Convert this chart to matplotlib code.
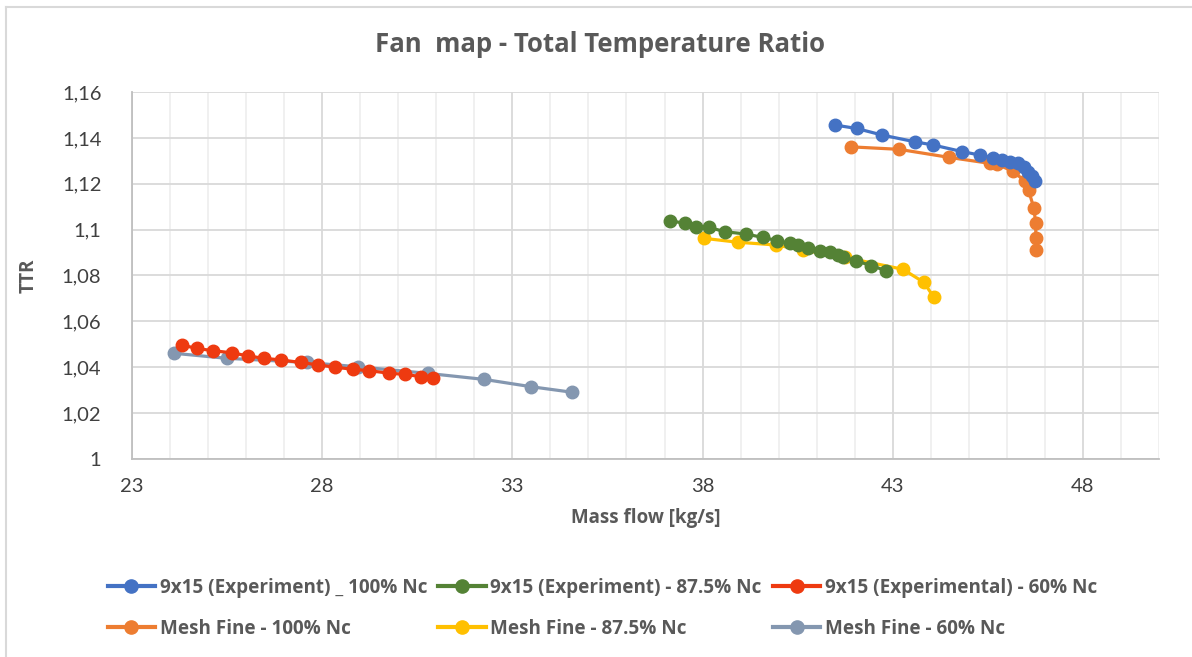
import matplotlib
matplotlib.use("Agg")
import matplotlib.pyplot as plt
from matplotlib.lines import Line2D
from matplotlib.ticker import MultipleLocator

plt.rcParams['font.family'] = ['Lato', 'DejaVu Sans']
BOLD_FONT = ['Open Sans', 'DejaVu Sans']

# Fan map data: mass flow [kg/s] vs total temperature ratio
exp100_x = [41.48, 42.05, 42.73, 43.58, 44.06, 44.83, 45.29, 45.64, 45.86, 46.08,
            46.29, 46.44, 46.56, 46.65, 46.73]
exp100_y = [1.1456, 1.1441, 1.1412, 1.1383, 1.1369, 1.1340, 1.1325, 1.1313, 1.1303, 1.1296,
            1.1289, 1.1274, 1.1252, 1.1234, 1.1212]

mesh100_x = [41.89, 43.17, 44.48, 45.55, 45.73, 46.15, 46.47, 46.57, 46.71, 46.76,
             46.76, 46.76]
mesh100_y = [1.1361, 1.1350, 1.1315, 1.1289, 1.1286, 1.1255, 1.1213, 1.1173, 1.1093, 1.1027,
             1.0965, 1.0911]

exp875_x = [37.14, 37.55, 37.84, 38.17, 38.58, 39.13, 39.59, 39.96, 40.29, 40.51,
            40.77, 41.08, 41.34, 41.56, 41.69, 42.03, 42.44, 42.82]
exp875_y = [1.1039, 1.1027, 1.1013, 1.1010, 1.0991, 1.0981, 1.0966, 1.0952, 1.0940, 1.0933,
            1.0918, 1.0908, 1.0901, 1.0889, 1.0882, 1.0864, 1.0843, 1.0821]

mesh875_x = [38.04, 38.93, 39.93, 40.63, 41.74, 43.27, 43.82, 44.08]
mesh875_y = [1.0962, 1.0945, 1.0933, 1.0911, 1.0879, 1.0827, 1.0770, 1.0705]

exp60_x = [24.31, 24.70, 25.14, 25.62, 26.06, 26.47, 26.91, 27.43, 27.90, 28.34,
           28.82, 29.24, 29.76, 30.17, 30.60, 30.92]
exp60_y = [1.0497, 1.0482, 1.0472, 1.0463, 1.0449, 1.0439, 1.0432, 1.0421, 1.0410, 1.0400,
           1.0391, 1.0385, 1.0374, 1.0369, 1.0359, 1.0352]

mesh60_x = [24.10, 25.49, 27.59, 28.95, 30.79, 32.26, 33.50, 34.57]
mesh60_y = [1.0461, 1.0439, 1.0421, 1.0402, 1.0373, 1.0347, 1.0315, 1.0291]

series = [
    ("9x15 (Experiment) _ 100% Nc", exp100_x, exp100_y, "#4472C4"),
    ("Mesh Fine - 100% Nc", mesh100_x, mesh100_y, "#ED7D31"),
    ("9x15 (Experiment) - 87.5% Nc", exp875_x, exp875_y, "#548235"),
    ("Mesh Fine - 87.5% Nc", mesh875_x, mesh875_y, "#FFC000"),
    ("9x15 (Experimental) - 60% Nc", exp60_x, exp60_y, "#EE3A10"),
    ("Mesh Fine - 60% Nc", mesh60_x, mesh60_y, "#8497B0"),
]

x_ticks = [23, 28, 33, 38, 43, 48]
y_ticks = [1.00, 1.02, 1.04, 1.06, 1.08, 1.10, 1.12, 1.14, 1.16]
y_tick_labels = ["1", "1,02", "1,04", "1,06", "1,08", "1,1", "1,12", "1,14", "1,16"]

TEXT = "#595959"

fig = plt.figure(figsize=(11.92, 6.57), dpi=100)
ax = fig.add_axes([132 / 1192, 1 - 459 / 657, (1159 - 132) / 1192, (459 - 92) / 657])

# experiment curves drawn beneath the matching mesh curves where they overlap
for i in [1, 0, 3, 2, 5, 4]:
    name, xs, ys, col = series[i]
    ax.plot(xs, ys, color=col, lw=2.3, marker='o', ms=9.0, mec=col, mfc=col,
            solid_capstyle='round', zorder=3)

ax.set_xlim(23, 50)
ax.set_ylim(1.0, 1.16)
ax.set_xticks(x_ticks)
ax.xaxis.set_minor_locator(MultipleLocator(1))
ax.set_yticks(y_ticks)
ax.set_yticklabels(y_tick_labels)

ax.grid(which='major', axis='x', color='#D9D9D9', lw=1.3, zorder=0)
ax.grid(which='minor', axis='x', color='#EFEFEF', lw=1.3, zorder=0)
ax.grid(which='major', axis='y', color='#D9D9D9', lw=1.3, zorder=0)
ax.set_axisbelow(True)

for s in ['top', 'right']:
    ax.spines[s].set_visible(False)
for s in ['left', 'bottom']:
    ax.spines[s].set_color('#BFBFBF')
    ax.spines[s].set_linewidth(1.3)

ax.tick_params(which='both', length=0)
ax.tick_params(axis='y', pad=22, labelsize=14.5, labelcolor='#404040')
ax.tick_params(axis='x', pad=14, labelsize=14.5, labelcolor='#404040')

ax.set_xlabel("Mass flow [kg/s]", fontsize=13.5, fontweight='bold', color=TEXT,
              labelpad=9, family=BOLD_FONT)
ax.set_ylabel("TTR", fontsize=13.5, fontweight='bold', color=TEXT, labelpad=17,
              family=BOLD_FONT)

fig.text(0.503, 1 - 45 / 657, "Fan  map - Total Temperature Ratio", ha='center', va='center',
         fontsize=18.5, fontweight='bold', color=TEXT, family=BOLD_FONT)

handles = []
labels = []
for name, xs, ys, col in series:
    handles.append(Line2D([], [], color=col, lw=3, marker='o', ms=9.5, mec=col, mfc=col))
    labels.append(name)

leg = fig.legend(handles, labels, ncol=3, loc='upper left',
                 bbox_to_anchor=(100 / 1192, 1 - 570 / 657), frameon=False,
                 prop={'family': BOLD_FONT, 'size': 13.6, 'weight': 'bold'},
                 handlelength=2.5, handletextpad=0.25, columnspacing=0.6,
                 labelspacing=1.12, borderaxespad=0)
for t in leg.get_texts():
    t.set_color(TEXT)

# chart area frame (left and top edges)
fig.add_artist(Line2D([6 / 1192, 6 / 1192], [0, 1 - 7 / 657], transform=fig.transFigure,
                      color='#D9D9D9', lw=1.5))
fig.add_artist(Line2D([6 / 1192, 1], [1 - 7 / 657, 1 - 7 / 657], transform=fig.transFigure,
                      color='#D9D9D9', lw=1.5))

fig.savefig("out.png", dpi=100, facecolor='white')
